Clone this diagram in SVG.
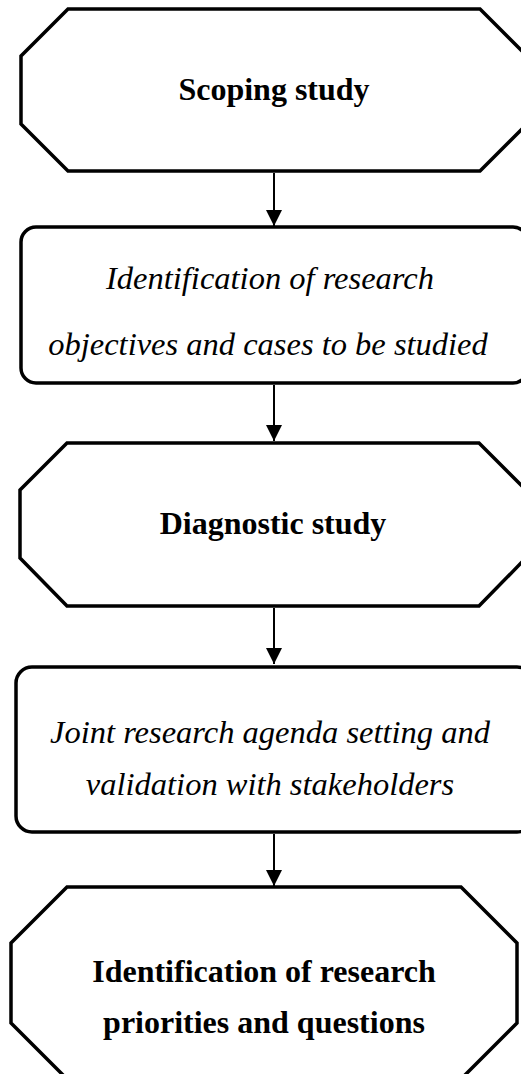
<svg xmlns="http://www.w3.org/2000/svg" width="521" height="1074" viewBox="0 0 521 1074">
  <style>
    .shape { fill: #ffffff; stroke: #000000; stroke-width: 3.5; stroke-linejoin: miter; }
    .edge { stroke: #000000; stroke-width: 2; fill: none; }
    .bold { font-family: "Liberation Serif", "Times New Roman", serif; font-weight: bold; font-size: 32px; fill: #000000; text-anchor: middle; }
    .ital { font-family: "Liberation Serif", "Times New Roman", serif; font-style: italic; font-size: 32.5px; fill: #000000; text-anchor: middle; }
  </style>
  <defs>
    <marker id="arrow" markerUnits="userSpaceOnUse" markerWidth="16" markerHeight="16" refX="16" refY="8" orient="auto">
      <path d="M0,0 L16,8 L0,16 Z" fill="#000000"/>
    </marker>
  </defs>
  <rect width="521" height="1074" fill="#ffffff"/>

  <g id="connectors">
    <line class="edge" x1="274" y1="173" x2="274" y2="226" marker-end="url(#arrow)"/>
    <line class="edge" x1="274" y1="385" x2="274" y2="441" marker-end="url(#arrow)"/>
    <line class="edge" x1="274" y1="608" x2="274" y2="664" marker-end="url(#arrow)"/>
    <line class="edge" x1="274" y1="834" x2="274" y2="886" marker-end="url(#arrow)"/>
  </g>

  <g id="scoping-study">
    <polygon class="shape" points="68,9 480,9 527,56 527,124 480,171 68,171 21,124 21,56"/>
    <text class="bold" x="274" y="100">Scoping study</text>
  </g>

  <g id="research-objectives">
    <rect class="shape" x="21" y="227" width="507" height="156" rx="15" ry="15"/>
    <text class="ital" x="270" y="289">Identification of research</text>
    <text class="ital" x="268" y="355">objectives and cases to be studied</text>
  </g>

  <g id="diagnostic-study">
    <polygon class="shape" points="67,443 479,443 526,490 526,558 479,606 67,606 20,558 20,490"/>
    <text class="bold" x="273" y="534">Diagnostic study</text>
  </g>

  <g id="agenda-setting">
    <rect class="shape" x="16" y="667" width="517" height="165" rx="16" ry="16"/>
    <text class="ital" x="270" y="743">Joint research agenda setting and</text>
    <text class="ital" x="270" y="795">validation with stakeholders</text>
  </g>

  <g id="research-priorities">
    <polygon class="shape" points="67,887 461,887 517,943 517,1023 461,1079 67,1079 11,1023 11,943"/>
    <text class="bold" x="264" y="982">Identification of research</text>
    <text class="bold" x="264" y="1033">priorities and questions</text>
  </g>
</svg>
